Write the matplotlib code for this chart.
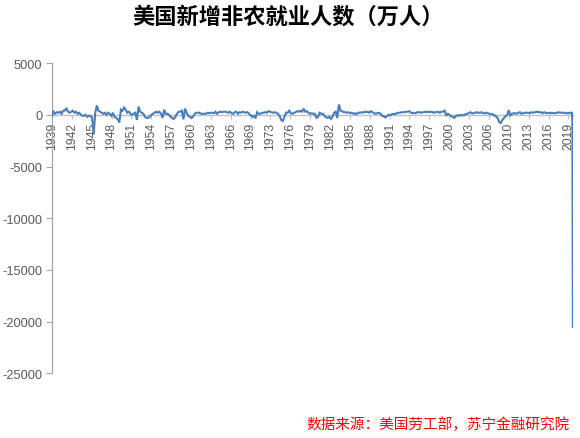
import numpy as np
import matplotlib
matplotlib.use("Agg")
import matplotlib.pyplot as plt

plt.rcParams['font.family'] = ['Liberation Sans', 'Noto Sans CJK SC', 'DejaVu Sans']

title = "美国新增非农就业人数（万人）"
source = "数据来源：美国劳工部，苏宁金融研究院"

# quarterly values, 1939Q1 .. 2019Q4
q_1930s = [
    -100, 300, 100, 250,            # 1939
]
q_1940s = [
    200, 300, 100, 400,             # 1940
    400, 650, 300, 200,             # 1941
    300, 400, 200, 300,             # 1942
    100, 200, 0, -100,              # 1943
    -100, 0, -200, -100,            # 1944
    -100, -300, -1900, 200,         # 1945
    900, 400, 300, 200,             # 1946
    100, 200, 0, 200,               # 1947
    100, -100, 200, -200,           # 1948
    -300, -400, -750, 500,          # 1949
]
q_1950s = [
    400, 700, 500, 200,             # 1950
    300, 100, 0, 100,               # 1951
    200, -500, 800, 300,            # 1952
    200, 100, -200, -300,           # 1953
    -300, -200, 0, 100,             # 1954
    200, 300, 200, 300,             # 1955
    100, -300, 500, 100,            # 1956
    100, 0, -200, -300,             # 1957
    -400, -200, 100, 300,           # 1958
    300, 400, -450, 600,            # 1959
]
q_1960s = [
    200, -100, -200, -300,          # 1960
    -200, 100, 200, 200,            # 1961
    200, 100, 100, 100,             # 1962
    100, 200, 150, 200,             # 1963
    200, 150, 300, 100,             # 1964
    250, 300, 250, 300,             # 1965
    300, 250, 200, 300,             # 1966
    150, 100, 250, 300,             # 1967
    100, 250, 200, 300,             # 1968
    250, 200, 250, 100,             # 1969
]
q_1970s = [
    -50, -200, -100, -350,          # 1970
    250, 100, 100, 200,             # 1971
    200, 250, 200, 350,             # 1972
    300, 250, 200, 250,             # 1973
    200, 100, -100, -500,           # 1974
    -600, -200, 200, 200,           # 1975
    400, 150, 100, 200,             # 1976
    250, 350, 300, 400,             # 1977
    300, 600, 300, 350,             # 1978
    200, 100, 150, 100,             # 1979
]
q_1980s = [
    100, -300, -200, 200,           # 1980
    100, 100, -100, -250,           # 1981
    -300, -200, -400, -200,         # 1982
    200, 300, -300, 1000,           # 1983
    400, 350, 250, 250,             # 1984
    200, 250, 150, 200,             # 1985
    100, 150, 50, 200,              # 1986
    200, 250, 200, 300,             # 1987
    250, 300, 200, 350,             # 1988
    250, 150, 100, 150,             # 1989
]
q_1990s = [
    200, 100, -100, -150,           # 1990
    -250, -150, 0, -50,             # 1991
    50, 100, 50, 150,               # 1992
    200, 200, 250, 250,             # 1993
    250, 300, 300, 350,             # 1994
    200, 150, 200, 150,             # 1995
    250, 250, 200, 250,             # 1996
    250, 300, 250, 300,             # 1997
    250, 300, 200, 250,             # 1998
    250, 300, 200, 300,             # 1999
]
q_2000s = [
    300, 400, -100, 100,            # 2000
    0, -100, -200, -300,            # 2001
    -100, -50, -100, 0,             # 2002
    -50, -50, 50, 100,              # 2003
    150, 250, 150, 150,             # 2004
    200, 250, 200, 200,             # 2005
    250, 150, 150, 200,             # 2006
    150, 100, 50, 50,               # 2007
    -50, -150, -300, -700,          # 2008
    -800, -500, -300, -150,         # 2009
]
q_2010s = [
    0, 450, -100, 100,              # 2010
    150, 150, 100, 200,             # 2011
    250, 100, 150, 200,             # 2012
    200, 200, 150, 250,             # 2013
    200, 250, 250, 300,             # 2014
    250, 250, 150, 250,             # 2015
    200, 150, 200, 150,             # 2016
    200, 150, 150, 200,             # 2017
    250, 200, 200, 200,             # 2018
    200, 150, 150, 200,             # 2019
]
# monthly values Jan..Apr 2020
m_2020 = [200, 250, -700, -20500]

tick_labels = ['1939', '1942', '1945', '1948', '1951', '1954', '1957', '1960',
               '1963', '1966', '1969', '1973', '1976', '1979', '1982', '1985',
               '1988', '1991', '1994', '1997', '2000', '2003', '2006', '2010',
               '2013', '2016', '2019']

quarterly = q_1930s + q_1940s + q_1950s + q_1960s + q_1970s + q_1980s + q_1990s + q_2000s + q_2010s
x_q = 1939 + np.arange(len(quarterly)) * 0.25
x_m = 2020 + np.arange(len(m_2020)) / 12.0
x = np.concatenate([x_q, x_m])
y = np.concatenate([np.array(quarterly, float), np.array(m_2020, float)])

fig = plt.figure(figsize=(5.8, 4.39), dpi=100)
fig.patch.set_facecolor('white')
ax = fig.add_axes([52 / 580, 64.7 / 439, (573 - 52) / 580, 310.2 / 439])

ax.plot(x, y, color='#4A7EBB', linewidth=1.5, solid_joinstyle='miter', zorder=3)

for s in ['top', 'right']:
    ax.spines[s].set_visible(False)
ax.spines['bottom'].set_position(('data', 0))
ax.spines['bottom'].set_color('#BFBFBF')
ax.spines['bottom'].set_linewidth(1.0)
ax.spines['bottom'].set_zorder(2)
ax.spines['left'].set_color('#A6A6A6')
ax.spines['left'].set_linewidth(0.9)

ax.set_xlim(1939, 2020.27)
ax.set_ylim(-25000, 5000)
ax.set_yticks(np.arange(-25000, 5001, 5000))
ax.set_yticklabels([str(v) for v in range(-25000, 5001, 5000)])

tick_step = 3.098
tick_pos = 1939 + np.arange(len(tick_labels)) * tick_step
ax.set_xticks(tick_pos)
ax.set_xticklabels(tick_labels)

ax.tick_params(axis='x', direction='out', length=3, width=0.8, color='#BFBFBF',
               labelsize=8.8, labelcolor='#595959', pad=2, labelrotation=90)
ax.tick_params(axis='y', direction='out', length=4, width=0.8, color='#A6A6A6',
               labelsize=9.2, labelcolor='#595959', pad=3)
ax.set_facecolor('none')

fig.text(0.497, 1 - 17 / 439, title, ha='center', va='center', fontsize=16,
         fontweight='bold', family=['Noto Sans CJK SC', 'DejaVu Sans'], color='#000000')
fig.text(570 / 580, 1 - 425 / 439, source, ha='right', va='center', fontsize=10.5,
         family=['Noto Sans CJK SC', 'DejaVu Sans'], color='#FF0000')

fig.savefig('out.png', dpi=100, facecolor='white')
